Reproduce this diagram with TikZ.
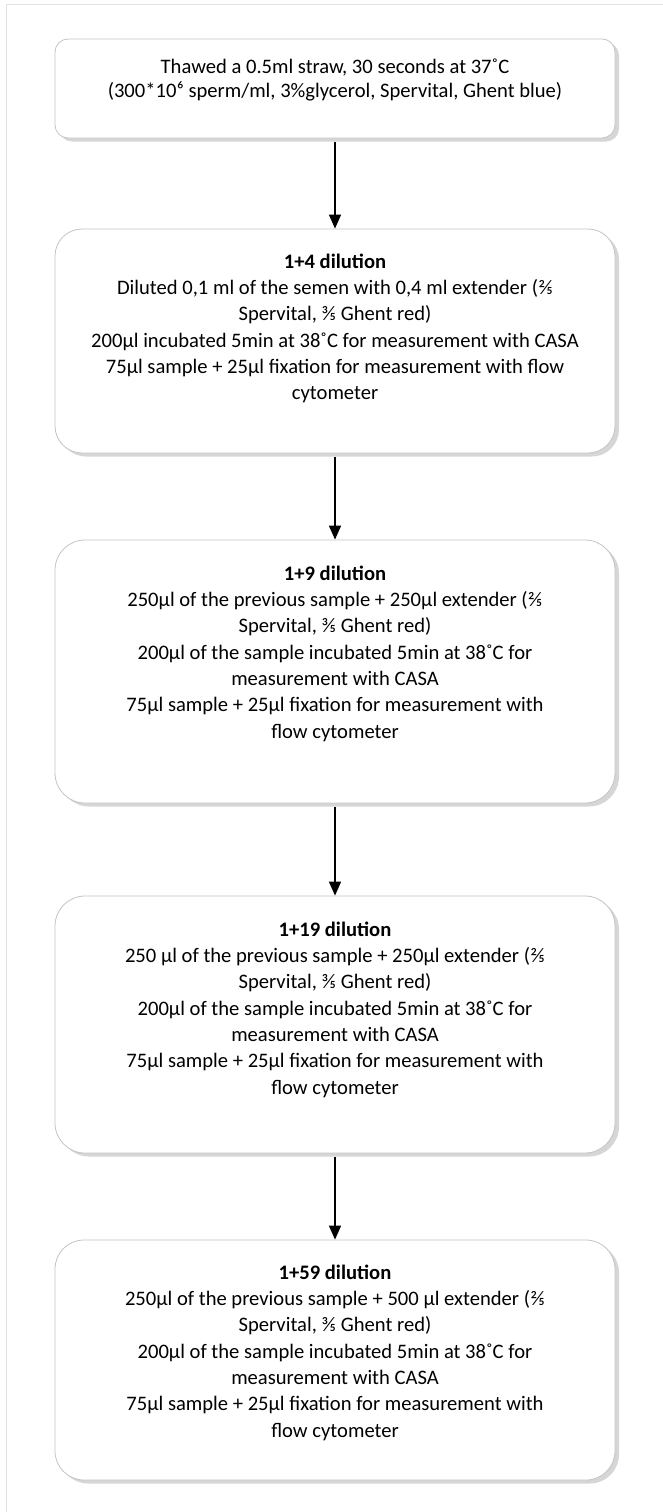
\documentclass[tikz,border=0pt]{standalone}
\usepackage{fontspec}
\setmainfont{Carlito}
\usetikzlibrary{arrows.meta,shadows}
\definecolor{boxline}{HTML}{C4C4C4}
\definecolor{shade}{HTML}{D6D6D6}
\definecolor{frameline}{HTML}{E2E2E2}
\tikzset{
  stepbox/.style={draw=boxline, line width=0.8pt, fill=white, rectangle,
    minimum width=560pt, inner sep=0pt,
    drop shadow={shadow xshift=4pt, shadow yshift=-3.5pt, fill=shade, opacity=1}},
  txt/.style={align=center, inner sep=0pt, anchor=north, text=black,
    font=\fontsize{20.6}{26.3}\selectfont},
  flow/.style={-{Triangle[length=14pt,width=12pt]}, line width=1.6pt, black},
}
\begin{document}
\begin{tikzpicture}[x=1pt,y=-1pt]
\useasboundingbox (0,0) rectangle (663,1512);
\draw[frameline, line width=1pt] (6,1512) -- (6,5) -- (663,5);

\node[stepbox, rounded corners=13pt, minimum height=99pt]  (b1) at (335,88.5) {};
\node[stepbox, rounded corners=27pt, minimum height=224pt] (b2) at (335,341) {};
\node[stepbox, rounded corners=30pt, minimum height=263pt] (b3) at (335,671.5) {};
\node[stepbox, rounded corners=30pt, minimum height=257pt] (b4) at (335,1024.5) {};
\node[stepbox, rounded corners=29pt, minimum height=240pt] (b5) at (335,1360) {};

\node[txt, font=\fontsize{20.6}{24.5}\selectfont] (t1) at (335,55) {\rule{0pt}{18pt}Thawed a 0.5ml straw, 30 seconds at 37˚C\\(300*10⁶ sperm/ml, 3\%glycerol, Spervital, Ghent blue)};

\node[txt] (t2) at (335,250) {\rule{0pt}{18pt}\textbf{1+4 dilution}\\Diluted 0,1 ml of the semen with 0,4 ml extender (⅖\\Spervital, ⅗ Ghent red)\\200µl incubated 5min at 38˚C for measurement with CASA\\75µl sample + 25µl fixation for measurement with flow\\cytometer};

\node[txt] (t3) at (335,562) {\rule{0pt}{18pt}\textbf{1+9 dilution}\\250µl of the previous sample + 250µl extender (⅖\\Spervital, ⅗ Ghent red)\\200µl of the sample incubated 5min at 38˚C for\\measurement with CASA\\75µl sample + 25µl fixation for measurement with\\flow cytometer};

\node[txt] (t4) at (335,918) {\rule{0pt}{18pt}\textbf{1+19 dilution}\\250 µl of the previous sample + 250µl extender (⅖\\Spervital, ⅗ Ghent red)\\200µl of the sample incubated 5min at 38˚C for\\measurement with CASA\\75µl sample + 25µl fixation for measurement with\\flow cytometer};

\node[txt] (t5) at (335,1261) {\rule{0pt}{18pt}\textbf{1+59 dilution}\\250µl of the previous sample + 500 µl extender (⅖\\Spervital, ⅗ Ghent red)\\200µl of the sample incubated 5min at 38˚C for\\measurement with CASA\\75µl sample + 25µl fixation for measurement with\\flow cytometer};

\draw[flow] ([yshift=-3.5pt]b1.south) -- (b2.north);
\draw[flow] ([yshift=-3.5pt]b2.south) -- (b3.north);
\draw[flow] ([yshift=-3.5pt]b3.south) -- (b4.north);
\draw[flow] ([yshift=-3.5pt]b4.south) -- (b5.north);
\end{tikzpicture}
\end{document}
